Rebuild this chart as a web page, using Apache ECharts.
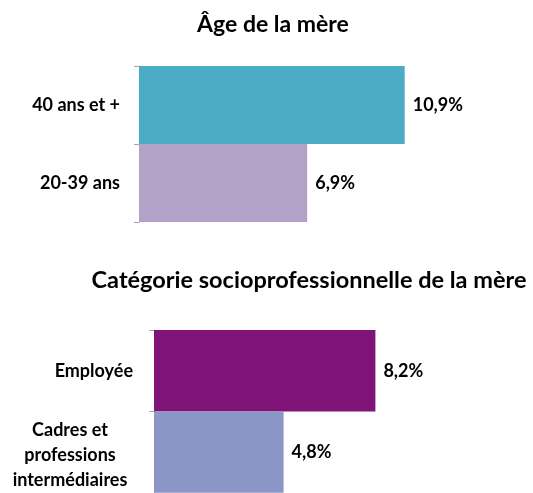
<!DOCTYPE html>
<html><head><meta charset="utf-8">
<script src="https://cdn.jsdelivr.net/npm/echarts@6/dist/echarts.min.js"></script>
<style>html,body{margin:0;padding:0;background:#fff}#c{width:533px;height:493px}</style>
</head><body><div id="c"></div>
<script>
const title1 = 'Âge de la mère';
const title2 = 'Catégorie socioprofessionnelle de la mère';
const ageCategories = ['40 ans et +', '20-39 ans'];
const ageValues = [10.9, 6.9];
const ageColors = ['#4bacc6', '#b2a2c7'];
const cspCategories = ['Employée', 'Cadres et\nprofessions\nintermédiaires'];
const cspValues = [8.2, 4.8];
const cspColors = ['#7f1378', '#8c96c6'];

const FONT = 'Lato';
const FS = 18;
const chart = echarts.init(document.getElementById('c'), null, {renderer: 'canvas'});
const fmt = p => p.value.toFixed(1).replace('.', ',') + '%';
const axisLine = {show: true, lineStyle: {color: '#a6a6a6', width: 1}};
chart.setOption({
  animation: false,
  title: [
    {text: title1, left: 268, top: 8, textAlign: 'center',
     textStyle: {fontFamily: FONT, fontWeight: 'bold', fontSize: 23, color: '#000'}},
    {text: title2, left: 304, top: 263, textAlign: 'center',
     textStyle: {fontFamily: FONT, fontWeight: 'bold', fontSize: 23.5, color: '#000'}}
  ],
  grid: [
    {left: 139, top: 66, height: 156, width: 390},
    {left: 154, top: 330, height: 163, width: 378}
  ],
  xAxis: [
    {gridIndex: 0, type: 'value', min: 0, max: 16, show: false},
    {gridIndex: 1, type: 'value', min: 0, max: 14, show: false}
  ],
  yAxis: [
    {gridIndex: 0, type: 'category', inverse: true, data: ageCategories,
     axisLine: axisLine, axisTick: {show: true, length: 5, lineStyle: {color: '#a6a6a6'}},
     axisLabel: {margin: 19, fontFamily: FONT, fontWeight: 'bold', fontSize: FS, color: '#000'}},
    {gridIndex: 1, type: 'category', inverse: true,
     data: cspCategories.map(c => c.indexOf('\n') >= 0 ? {value: c, textStyle: {padding: [7, 0, 0, 0]}} : c),
     axisLine: axisLine, axisTick: {show: true, length: 5, lineStyle: {color: '#a6a6a6'}},
     axisLabel: {margin: 21, fontFamily: FONT, fontWeight: 'bold', fontSize: FS, color: '#000',
       lineHeight: 25,
       formatter: v => v.indexOf('\n') >= 0 ? v.split('\n').map(s => '{c|' + s + '}').join('\n') : v,
       rich: {c: {width: 126, align: 'center', fontFamily: FONT, fontWeight: 'bold', fontSize: FS, color: '#000', lineHeight: 25}}}}
  ],
  series: [
    {type: 'bar', xAxisIndex: 0, yAxisIndex: 0, barCategoryGap: 0,
     data: ageValues.map((v, i) => ({value: v, itemStyle: {color: ageColors[i]}})),
     label: {show: true, position: 'right', distance: 8, formatter: fmt,
       fontFamily: FONT, fontWeight: 'bold', fontSize: FS, color: '#000'}},
    {type: 'bar', xAxisIndex: 1, yAxisIndex: 1, barCategoryGap: 0,
     data: cspValues.map((v, i) => ({value: v, itemStyle: {color: cspColors[i]}})),
     label: {show: true, position: 'right', distance: 8, formatter: fmt,
       fontFamily: FONT, fontWeight: 'bold', fontSize: FS, color: '#000'}}
  ]
});
</script></body></html>
